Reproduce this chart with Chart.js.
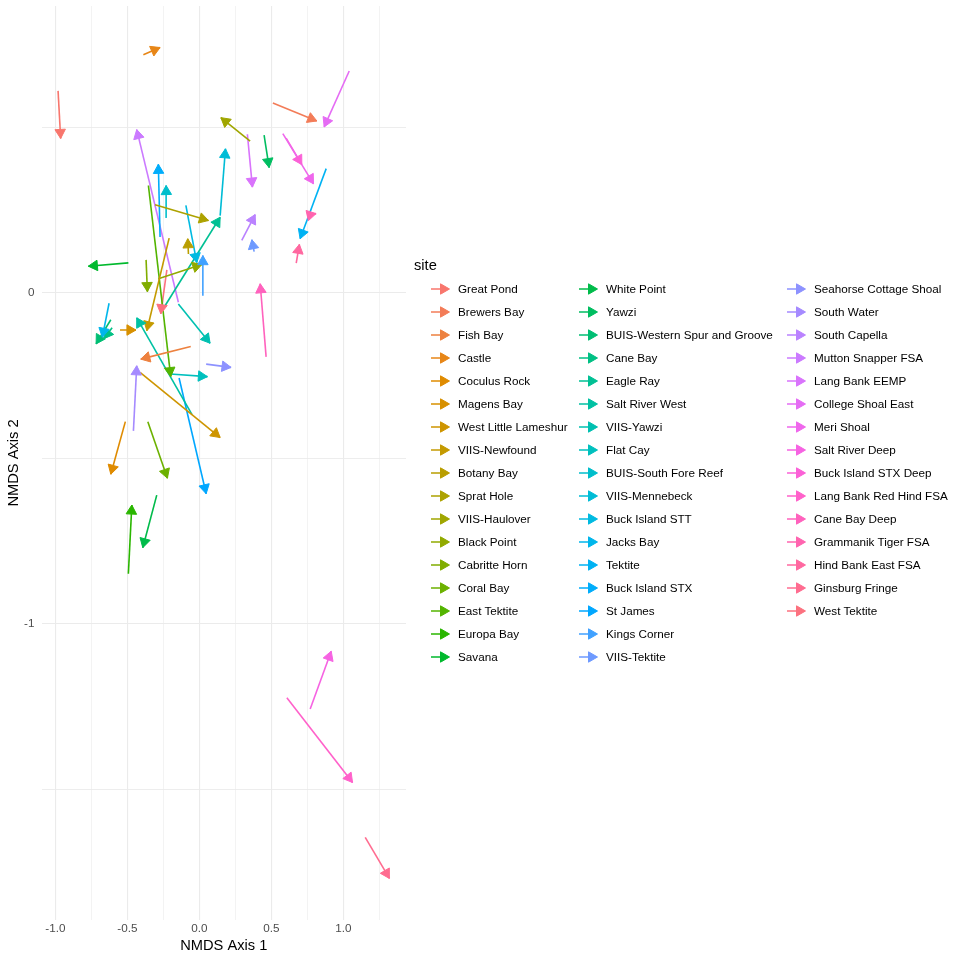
<!DOCTYPE html>
<html>
<head>
<meta charset="utf-8">
<script src="https://cdn.jsdelivr.net/npm/chart.js@4.4.1/dist/chart.umd.min.js"></script>
<style>
  html, body { margin: 0; padding: 0; background: #fff; }
  #wrap { position: relative; width: 960px; height: 960px; font-family: 'Liberation Sans', Arial, Helvetica, sans-serif; }
  #nmds { position: absolute; left: 0; top: 0; }
  #legend { position: absolute; left: 0; top: 0; width: 960px; height: 960px; pointer-events: none; }
  .lg-title { position: absolute; left: 414px; font-size: 14.67px; line-height: 18px; color: #000; }
  .lg-item { position: absolute; height: 18px; font-size: 11.7px; line-height: 18px; color: #000; white-space: nowrap; }
  .lg-item svg { position: absolute; left: 0; top: 0; }
  .lg-item span { position: absolute; left: 28px; top: 0; }
</style>
</head>
<body>
<div id="wrap">
  <canvas id="nmds" width="960" height="960"></canvas>
  <div id="legend"></div>
</div>
<script>
// sites in legend order
const sites = ['Great Pond', 'Brewers Bay', 'Fish Bay', 'Castle', 'Coculus Rock', 'Magens Bay',
  'West Little Lameshur', 'VIIS-Newfound', 'Botany Bay', 'Sprat Hole', 'VIIS-Haulover', 'Black Point',
  'Cabritte Horn', 'Coral Bay', 'East Tektite', 'Europa Bay', 'Savana', 'White Point', 'Yawzi',
  'BUIS-Western Spur and Groove', 'Cane Bay', 'Eagle Ray', 'Salt River West', 'VIIS-Yawzi', 'Flat Cay',
  'BUIS-South Fore Reef', 'VIIS-Mennebeck', 'Buck Island STT', 'Jacks Bay', 'Tektite', 'Buck Island STX',
  'St James', 'Kings Corner', 'VIIS-Tektite', 'Seahorse Cottage Shoal', 'South Water', 'South Capella',
  'Mutton Snapper FSA', 'Lang Bank EEMP', 'College Shoal East', 'Meri Shoal', 'Salt River Deep',
  'Buck Island STX Deep', 'Lang Bank Red Hind FSA', 'Cane Bay Deep', 'Grammanik Tiger FSA',
  'Hind Bank East FSA', 'Ginsburg Fringe', 'West Tektite'];

// arrow start (x0, y0) and end (x1, y1) in NMDS space
const x0 = [-0.981, 0.510, -0.060, -0.389, -0.514, -0.551, -0.412, -0.210, -0.076, -0.308,
  0.352, -0.285, -0.370, -0.358, -0.354, -0.493, -0.493, -0.296, 0.449, -0.615,
  -0.606, -0.245, -0.051, -0.146, -0.203, -0.226, 0.144, -0.094, -0.627, 0.880,
  -0.273, -0.141, 0.024, 0.380, 0.047, -0.458, 0.294, -0.146, 0.333, 1.040,
  0.579, 0.769, 0.602, 0.607, 0.463, 0.748, 0.672, 1.151, -0.226];
const y0 = [0.611, 0.574, -0.162, 0.720, -0.389, -0.112, -0.240, 0.166, 0.118, 0.267,
  0.459, 0.043, 0.100, -0.389, 0.325, -0.849, 0.091, -0.611, 0.477, -0.081,
  -0.105, -0.043, -0.368, -0.033, -0.245, 0.229, 0.234, 0.265, -0.031, 0.376,
  0.169, -0.257, -0.008, 0.125, -0.215, -0.417, 0.159, -0.028, 0.480, 0.671,
  0.482, -1.258, 0.468, -1.224, -0.193, 0.234, 0.090, -1.646, 0.070];
const x1 = [-0.963, 0.815, -0.407, -0.273, -0.615, -0.440, 0.144, -0.365, -0.081, 0.063,
  0.149, 0.017, -0.361, -0.222, -0.199, -0.469, -0.771, -0.393, 0.484, -0.717,
  -0.662, 0.144, -0.435, 0.074, 0.056, -0.231, 0.181, -0.018, -0.674, 0.699,
  -0.285, 0.047, 0.024, 0.364, 0.220, -0.435, 0.387, -0.435, 0.368, 0.866,
  0.792, 0.915, 0.711, 1.063, 0.422, 0.810, 0.694, 1.319, -0.268];
const y1 = [0.467, 0.520, -0.200, 0.742, -0.548, -0.112, -0.437, -0.114, 0.164, 0.219,
  0.530, 0.086, 0.004, -0.560, -0.253, -0.641, 0.081, -0.770, 0.379, -0.154,
  -0.138, 0.229, -0.075, -0.152, -0.253, 0.325, 0.436, 0.092, -0.134, 0.164,
  0.389, -0.607, 0.113, 0.161, -0.225, -0.220, 0.237, 0.494, 0.320, 0.502,
  0.330, -1.083, 0.388, -1.480, 0.028, 0.240, 0.147, -1.770, -0.063];

// axis breaks
const xTicks = [-1, -0.75, -0.5, -0.25, 0, 0.25, 0.5, 0.75, 1, 1.25];
const xTickLabels = ['-1.0', '', '-0.5', '', '0.0', '', '0.5', '', '1.0', ''];
const yTicks = [-1.5, -1, -0.5, 0, 0.5];
const yTickLabels = ['', '-1', '', '0', ''];

// ggplot-style hue palette: hcl(h, c = 100, l = 65)
function hcl(h, c, l) {
  const hr = h * Math.PI / 180;
  const u = c * Math.cos(hr), v = c * Math.sin(hr);
  const Xn = 95.047, Yn = 100, Zn = 108.883;
  const un = 4 * Xn / (Xn + 15 * Yn + 3 * Zn), vn = 9 * Yn / (Xn + 15 * Yn + 3 * Zn);
  const Y = Yn * Math.pow((l + 16) / 116, 3);
  const up = u / (13 * l) + un, vp = v / (13 * l) + vn;
  const X = Y * 9 * up / (4 * vp);
  const Z = Y * (12 - 3 * up - 20 * vp) / (4 * vp);
  const lin = [
    3.2404542 * X - 1.5371385 * Y - 0.4985314 * Z,
    -0.9692660 * X + 1.8760108 * Y + 0.0415560 * Z,
    0.0556434 * X - 0.2040259 * Y + 1.0572252 * Z
  ].map(t => t / 100);
  const rgb = lin.map(t => {
    const g = t <= 0.0031308 ? 12.92 * t : 1.055 * Math.pow(t, 1 / 2.4) - 0.055;
    return Math.round(Math.min(1, Math.max(0, g)) * 255);
  });
  return 'rgb(' + rgb.join(',') + ')';
}
const n = sites.length;
const colors = sites.map((s, i) => hcl(15 + 360 * i / n, 100, 65));

// 5% expansion like ggplot
const allX = x0.concat(x1), allY = y0.concat(y1);
const xMin = Math.min(...allX), xMax = Math.max(...allX);
const yMin = Math.min(...allY), yMax = Math.max(...allY);
const xPad = (xMax - xMin) * 0.05, yPad = (yMax - yMin) * 0.05;

const datasets = sites.map((s, i) => ({
  label: s,
  data: [{x: x0[i], y: y0[i]}, {x: x1[i], y: y1[i]}],
  borderColor: colors[i],
  backgroundColor: colors[i],
  borderWidth: 1.6,
  borderCapStyle: 'butt',
  showLine: true,
  pointRadius: 0,
  pointHoverRadius: 0,
}));

const HEAD = 10.5;
const ANGLE = Math.PI / 6;

const arrowHeads = {
  id: 'arrowHeads',
  afterDatasetsDraw(chart) {
    const {ctx, scales} = chart;
    chart.data.datasets.forEach((ds) => {
      const ax = scales.x.getPixelForValue(ds.data[0].x);
      const ay = scales.y.getPixelForValue(ds.data[0].y);
      const bx = scales.x.getPixelForValue(ds.data[1].x);
      const by = scales.y.getPixelForValue(ds.data[1].y);
      const a = Math.atan2(by - ay, bx - ax);
      ctx.save();
      ctx.fillStyle = ds.borderColor;
      ctx.strokeStyle = ds.borderColor;
      ctx.lineWidth = 1;
      ctx.lineJoin = 'miter';
      ctx.beginPath();
      ctx.moveTo(bx, by);
      ctx.lineTo(bx - HEAD * Math.cos(a - ANGLE), by - HEAD * Math.sin(a - ANGLE));
      ctx.lineTo(bx - HEAD * Math.cos(a + ANGLE), by - HEAD * Math.sin(a + ANGLE));
      ctx.closePath();
      ctx.fill();
      ctx.stroke();
      ctx.restore();
    });
  }
};

Chart.defaults.font.family = "'Liberation Sans', Arial, Helvetica, sans-serif";

const ctx = document.getElementById('nmds').getContext('2d');
const myChart = new Chart(ctx, {
  type: 'scatter',
  data: { datasets: datasets },
  options: {
    responsive: false,
    animation: false,
    events: [],
    layout: { padding: { top: 6, right: 554, left: 0, bottom: 0 } },
    plugins: { legend: { display: false }, tooltip: { enabled: false } },
    scales: {
      x: {
        type: 'linear',
        min: xMin - xPad,
        max: xMax + xPad,
        afterBuildTicks: (scale) => { scale.ticks = xTicks.map(v => ({value: v})); },
        afterFit: (scale) => {
          scale.height = 40;
          scale.paddingLeft = 0;
          scale.paddingRight = 0;
        },
        border: { display: false },
        grid: {
          color: '#EBEBEB',
          drawTicks: false,
          lineWidth: (c) => (c.tick && xTickLabels[c.index] !== '' ? 1.1 : 0.6),
        },
        ticks: {
          autoSkip: false,
          maxRotation: 0,
          padding: 2,
          color: '#4D4D4D',
          font: { size: 11.7 },
          callback: (value, index) => xTickLabels[index],
        },
        title: {
          display: true,
          text: 'NMDS Axis 1',
          color: '#000',
          font: { size: 14.67 },
          padding: { top: 0, bottom: 5 },
        },
      },
      y: {
        type: 'linear',
        min: yMin - yPad,
        max: yMax + yPad,
        afterBuildTicks: (scale) => { scale.ticks = yTicks.map(v => ({value: v})); },
        afterFit: (scale) => {
          scale.width = 41.5;
          scale.paddingTop = 0;
          scale.paddingBottom = 0;
        },
        border: { display: false },
        grid: {
          color: '#EBEBEB',
          drawTicks: false,
          lineWidth: (c) => (c.tick && yTickLabels[c.index] !== '' ? 1.1 : 0.9),
        },
        ticks: {
          autoSkip: false,
          padding: 7,
          color: '#4D4D4D',
          font: { size: 11.7 },
          callback: (value, index) => yTickLabels[index],
        },
        title: {
          display: true,
          text: 'NMDS Axis 2',
          color: '#000',
          font: { size: 14.67 },
          padding: { top: 5, bottom: 0 },
        },
      },
    },
  },
  plugins: [arrowHeads],
});

// legend, three columns like the ggplot guide
const legendEl = document.getElementById('legend');
const colX = [430, 578, 786];
const perCol = Math.ceil(n / 3);
const title = document.createElement('div');
title.className = 'lg-title';
title.style.top = (265 - 9) + 'px';
title.textContent = 'site';
legendEl.appendChild(title);

sites.forEach((s, i) => {
  const col = Math.floor(i / perCol), row = i % perCol;
  const item = document.createElement('div');
  item.className = 'lg-item';
  item.style.left = colX[col] + 'px';
  item.style.top = (289 + 23 * row - 9) + 'px';
  item.innerHTML =
    '<svg width="22" height="18" viewBox="0 0 22 18">' +
    '<line x1="1" y1="9" x2="12" y2="9" stroke="' + colors[i] + '" stroke-width="1.5"/>' +
    '<polygon points="19.5,9 10.5,3.8 10.5,14.2" fill="' + colors[i] + '" stroke="' + colors[i] + '" stroke-width="1"/>' +
    '</svg>';
  const label = document.createElement('span');
  label.textContent = s;
  item.appendChild(label);
  legendEl.appendChild(item);
});
</script>
</body>
</html>
